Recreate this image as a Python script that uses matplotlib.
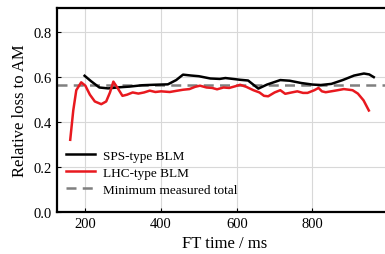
import matplotlib
matplotlib.use("Agg")
import matplotlib.pyplot as plt

# SPS-type BLM (black)
sps_t = [198, 215, 237, 260, 290, 317, 350, 380, 418, 440, 458, 480, 500, 530,
         555, 570, 590, 610, 630, 657, 680, 715, 740, 770, 800, 822, 850, 880,
         910, 936, 950, 962]
sps_loss = [0.604, 0.58, 0.552, 0.548, 0.553, 0.556, 0.562, 0.564, 0.566, 0.585,
            0.609, 0.605, 0.602, 0.592, 0.59, 0.594, 0.59, 0.586, 0.583, 0.547,
            0.565, 0.585, 0.582, 0.572, 0.565, 0.563, 0.568, 0.585, 0.605, 0.614,
            0.61, 0.598]

# LHC-type BLM (red)
lhc_t = [160, 168, 176, 189, 200, 212, 225, 242, 255, 265, 274, 285, 298, 310,
         325, 340, 355, 370, 385, 400, 423, 440, 458, 475, 490, 503, 520, 535,
         548, 565, 580, 595, 609, 625, 644, 660, 672, 683, 700, 715, 728, 745,
         760, 775, 787, 805, 816, 825, 835, 860, 883, 906, 920, 935, 949]
lhc_loss = [0.32, 0.45, 0.54, 0.575, 0.56, 0.52, 0.49, 0.478, 0.49, 0.53, 0.578,
            0.55, 0.515, 0.52, 0.53, 0.525, 0.53, 0.538, 0.532, 0.535, 0.532,
            0.537, 0.542, 0.545, 0.555, 0.56, 0.552, 0.55, 0.544, 0.552, 0.55,
            0.557, 0.564, 0.555, 0.54, 0.53, 0.515, 0.513, 0.53, 0.54, 0.524,
            0.53, 0.535, 0.528, 0.528, 0.54, 0.55, 0.535, 0.531, 0.538, 0.545,
            0.54, 0.525, 0.495, 0.45]

min_total = 0.563

plt.rcParams['font.family'] = ['Liberation Serif', 'DejaVu Serif']

fig = plt.figure(figsize=(3.85, 2.55), dpi=100)
# right edge of the axes runs just past the figure, as in the original crop
ax = fig.add_axes([0.148, 0.165, 0.87, 0.8])

ax.plot(sps_t, sps_loss, color='black', lw=1.8, label='SPS-type BLM', zorder=3)
ax.plot(lhc_t, lhc_loss, color='#e8191f', lw=1.8, label='LHC-type BLM', zorder=3)
ax.axhline(min_total, color='#808080', lw=1.8, ls=(0, (4, 2.5)),
           label='Minimum measured total', zorder=2)

ax.set_xlim(125, 1010)
ax.set_ylim(0, 0.905)
ax.set_xticks([200, 400, 600, 800])
ax.set_yticks([0.0, 0.2, 0.4, 0.6, 0.8])
ax.set_yticklabels(['0.0', '0.2', '0.4', '0.6', '0.8'])
ax.grid(color='#d8d8d8', lw=0.8)
ax.set_axisbelow(True)
ax.tick_params(direction='in', length=3, labelsize=10.5, width=0.8)

for s in ax.spines.values():
    s.set_linewidth(1.6)

ax.set_xlabel('FT time / ms', fontsize=12)
ax.set_ylabel('Relative loss to AM', fontsize=12)

ax.legend(loc='lower left', bbox_to_anchor=(0.0, 0.035), frameon=False,
          fontsize=9.5, handlelength=2.2, handletextpad=0.55,
          borderaxespad=0.3, labelspacing=0.35)

fig.savefig('out.png', dpi=100)
